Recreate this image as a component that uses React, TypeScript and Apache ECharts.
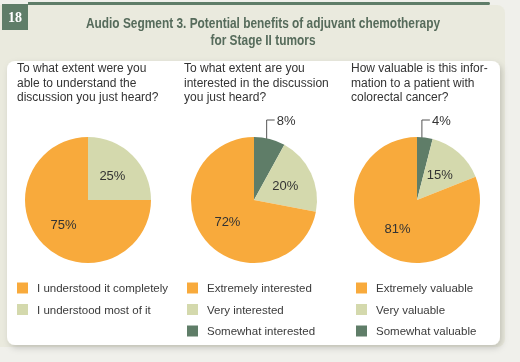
import React, { useEffect, useRef } from "react";
import * as echarts from "echarts";

const titleLines = [
  "Audio Segment 3. Potential benefits of adjuvant chemotherapy",
  "for Stage II tumors",
];
const questions = [
  ["To what extent were you", "able to understand the", "discussion you just heard?"],
  ["To what extent are you", "interested in the discussion", "you just heard?"],
  ["How valuable is this infor-", "mation to a patient with", "colorectal cancer?"],
];
// clockwise from 12 o'clock
const pie1Names = ["I understood most of it", "I understood it completely"];
const pie1Values = [25, 75];
const pie2Names = ["Somewhat interested", "Very interested", "Extremely interested"];
const pie2Values = [8, 20, 72];
const pie3Names = ["Somewhat valuable", "Very valuable", "Extremely valuable"];
const pie3Values = [4, 15, 81];

const ORANGE = "#f8aa3c";
const LIGHT = "#d4d9ad";
const DARK = "#5f7d68";
const FONT = "'Liberation Sans', Arial, sans-serif";

export default function App() {
  const ref = useRef<HTMLDivElement>(null);
  useEffect(() => {
    document.body.style.margin = "0";
    const chart = echarts.init(ref.current!, undefined, { renderer: "svg" });

    const centers = [88, 254, 417];
    const qx = [17, 184, 351];
    const legendX = [17, 187, 356];

    const makePie = (names: string[], values: number[], colors: string[], cx: number, outsideFirst: boolean) => ({
      type: "pie",
      center: [cx, 200],
      radius: 63,
      startAngle: 90,
      clockwise: true,
      silent: true,
      label: {
        show: true,
        position: "inside",
        formatter: "{c}%",
        fontSize: 13,
        fontFamily: FONT,
        color: "#333333",
      },
      labelLine: { show: false },
      labelLayout: (params: any) => {
        if (!outsideFirst || params.dataIndex !== 0 || !params.labelLinePoints) return {};
        const p = params.labelLinePoints[0];
        const x0 = p[0] - 3;
        const yTop = 120;
        return {
          x: x0 + 10,
          y: yTop,
          align: "left",
          verticalAlign: "middle",
          labelLinePoints: [
            [x0, p[1] + 6],
            [x0, yTop],
            [x0 + 8, yTop],
          ],
        };
      },
      data: names.map((n, i) => {
        const item: any = { name: n, value: values[i], itemStyle: { color: colors[i] } };
        if (outsideFirst && i === 0) {
          item.label = { position: "outside" };
          item.labelLine = { show: true, length: 8, length2: 8, lineStyle: { color: "#555555", width: 1 } };
        }
        return item;
      }),
    });

    const legendOf = (names: string[], x: number) => ({
      orient: "vertical",
      left: x,
      top: 282,
      padding: 0,
      itemWidth: 11,
      itemHeight: 11,
      itemGap: 9.5,
      icon: "rect",
      selectedMode: false,
      data: names,
      textStyle: {
        fontSize: 11.5,
        fontFamily: FONT,
        color: "#3a3a3a",
        lineHeight: 11,
        padding: [0, 0, 0, 4],
      },
    });

    const graphics: any[] = [
      { type: "rect", shape: { x: 0, y: 0, width: 520, height: 362 }, style: { fill: "#f0f0eb" }, z: -10 },
      { type: "rect", shape: { x: 0, y: 5, width: 505, height: 342, r: [0, 8, 8, 0] }, style: { fill: "#eaeade" }, z: -9 },
      { type: "rect", shape: { x: 28, y: 2, width: 462, height: 3, r: [0, 2, 2, 0] }, style: { fill: "#5f7d68" }, z: -8 },
      { type: "rect", shape: { x: 2, y: 4, width: 26, height: 26 }, style: { fill: "#5f7d68" }, z: -8 },
      {
        type: "text",
        x: 15,
        y: 17,
        z: 5,
        style: { text: "18", fill: "#ffffff", font: "bold 14px 'Liberation Serif', serif", textAlign: "center", textVerticalAlign: "middle" },
      },
      {
        type: "rect",
        shape: { x: 7, y: 61, width: 493, height: 284, r: 8 },
        style: { fill: "#ffffff", shadowBlur: 6, shadowColor: "rgba(0,0,0,0.18)", shadowOffsetX: 2, shadowOffsetY: 3 },
        z: -7,
      },
      ...titleLines.map((t, i) => ({
        type: "text",
        x: 263,
        y: 23 + i * 17,
        scaleX: 0.85,
        z: 5,
        style: { text: t, fill: "#566b5b", font: "bold 14px 'Liberation Sans', Arial, sans-serif", textAlign: "center", textVerticalAlign: "middle" },
      })),
    ];
    questions.forEach((lines, qi) => {
      lines.forEach((l, li) => {
        graphics.push({
          type: "text",
          x: qx[qi],
          y: 68 + li * 14.5,
          z: 5,
          style: { text: l, fill: "#333333", font: `12px ${FONT}`, textAlign: "left", textVerticalAlign: "middle" },
        });
      });
    });

    chart.setOption({
      animation: false,
      graphic: graphics,
      legend: [
        legendOf([pie1Names[1], pie1Names[0]], legendX[0]),
        legendOf([pie2Names[2], pie2Names[1], pie2Names[0]], legendX[1]),
        legendOf([pie3Names[2], pie3Names[1], pie3Names[0]], legendX[2]),
      ],
      series: [
        makePie(pie1Names, pie1Values, [LIGHT, ORANGE], centers[0], false),
        makePie(pie2Names, pie2Values, [DARK, LIGHT, ORANGE], centers[1], true),
        makePie(pie3Names, pie3Values, [DARK, LIGHT, ORANGE], centers[2], true),
      ],
    });
    return () => chart.dispose();
  }, []);
  return <div ref={ref} style={{ position: "fixed", left: 0, top: 0, width: 520, height: 362 }} />;
}
